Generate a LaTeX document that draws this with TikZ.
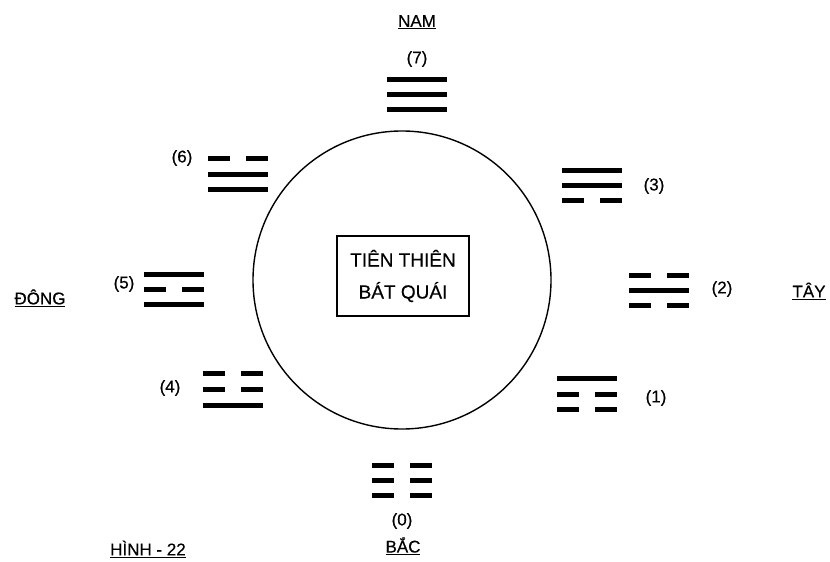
\documentclass[tikz,border=0pt]{standalone}
\usepackage{fontspec}
\setmainfont{Liberation Sans}
\newfontfamily\lblfont{Liberation Sans}[FakeBold=0.4]
\newcommand{\guabar}[3]{% x, y, solid(1)/broken(0)
  \ifnum#3=1
    \fill (#1,#2) rectangle ++(60,5);
  \else
    \fill (#1,#2) rectangle ++(22,5);
    \fill ({#1+38},#2) rectangle ++(22,5);
  \fi}
\newcommand{\gua}[6]{% x, ytop, spacing, top, mid, bottom
  \guabar{#1}{#2}{#4}
  \guabar{#1}{#2+#3}{#5}
  \guabar{#1}{#2+2*#3}{#6}}
\begin{document}
\begin{tikzpicture}[x=1pt,y=-1pt,
  lbl/.style={font=\lblfont\fontsize{17}{19}\selectfont, inner sep=0pt},
  dir/.style={font=\lblfont\fontsize{17}{19}\selectfont, inner sep=0pt}]
\useasboundingbox (0,0) rectangle (830,562);
% circle
\node[draw, circle, line width=1.4pt, minimum size=298pt, inner sep=0pt] (c) at (402,280) {};
\node[draw, line width=1.3pt, minimum width=132pt, minimum height=80pt, align=center,
      font=\lblfont\fontsize{19}{32}\selectfont] (box) at (403,276) {TIÊN THIÊN\\BÁT QUÁI};
% directions
\node[dir] (nam) at (417,22) {\underline{NAM}};
\node[dir] (bac) at (403,546) {\underline{BẮC}};
\node[dir] (dong) at (40,298) {\underline{ĐÔNG}};
\node[dir] (tay) at (809,291) {\underline{TÂY}};
\node[dir] (hinh) at (148,549) {\underline{HÌNH - 22}};
% labels
\node[lbl] (l7) at (417,59) {(7)};
\node[lbl] (l6) at (182,158) {(6)};
\node[lbl] (l3) at (654,186) {(3)};
\node[lbl] (l5) at (124,284) {(5)};
\node[lbl] (l2) at (722,289) {(2)};
\node[lbl] (l4) at (170,388) {(4)};
\node[lbl] (l1) at (656,398) {(1)};
\node[lbl] (l0) at (402,521) {(0)};
% trigrams
\gua{387}{77}{15}{1}{1}{1}
\gua{208}{156}{15.5}{0}{1}{1}
\gua{562}{168}{15}{1}{1}{0}
\gua{144}{272}{15}{1}{0}{1}
\gua{629}{273}{15}{0}{1}{0}
\gua{203}{371}{16}{0}{0}{1}
\gua{557}{376}{15.5}{1}{0}{0}
\gua{372}{463}{15}{0}{0}{0}
\end{tikzpicture}
\end{document}
